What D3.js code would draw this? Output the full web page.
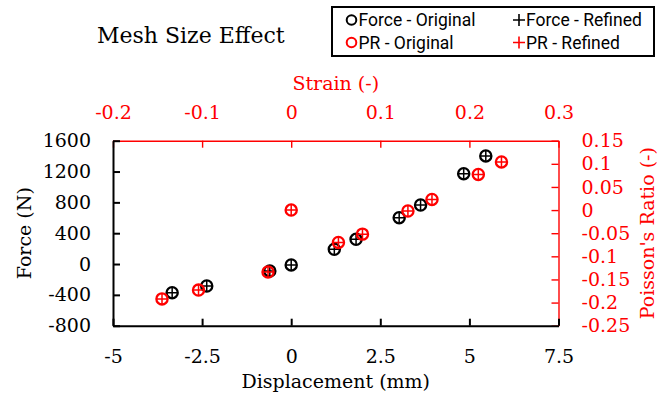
<!DOCTYPE html>
<html><head><meta charset="utf-8">
<script src="https://cdn.jsdelivr.net/npm/d3@7"></script>
<style>body{margin:0;background:#fff}svg{display:block}</style>
</head><body>
<script>
// Data
const dispOrig  = [-3.34, -2.37, -0.60, 0.00, 1.21, 1.82, 3.03, 3.63, 4.84, 5.46];
const forceOrig = [-372, -285, -90, -12, 192, 321, 601, 766, 1172, 1402];
const dispRef   = [-3.34, -2.37, -0.60, 0.00, 1.21, 1.82, 3.03, 3.63, 4.84, 5.46];
const forceRef  = [-372, -285, -90, -12, 192, 321, 601, 766, 1172, 1402];
const strainOrig = [-0.145, -0.104, -0.026, 0.000, 0.053, 0.080, 0.131, 0.158, 0.210, 0.236];
const prOrig     = [-0.192, -0.173, -0.134, 0.000, -0.070, -0.052, -0.002, 0.023, 0.077, 0.104];
const strainRef  = [-0.145, -0.104, -0.026, 0.000, 0.053, 0.080, 0.131, 0.158, 0.210, 0.236];
const prRef      = [-0.192, -0.173, -0.134, 0.000, -0.070, -0.052, -0.002, 0.023, 0.077, 0.104];

const dispTicks   = [-5, -2.5, 0, 2.5, 5, 7.5];
const strainTicks = [-0.2, -0.1, 0, 0.1, 0.2, 0.3];
const forceTicks  = [-800, -400, 0, 400, 800, 1200, 1600];
const prTicks     = [-0.25, -0.2, -0.15, -0.1, -0.05, 0, 0.05, 0.1, 0.15];

const title = "Mesh Size Effect";
const legendLabels = ["Force - Original", "Force - Refined", "PR - Original", "PR - Refined"];

const W = 662, H = 398;
const L = 113, R = 558.5, T = 140.7, B = 325.7;
const RED = "#ff0000";
const serif = "'DejaVu Serif', serif";

const svg = d3.select("body").append("svg").attr("width", W).attr("height", H);

const x  = d3.scaleLinear().domain([-5, 7.5]).range([L, R]);
const x2 = d3.scaleLinear().domain([-0.2, 0.3]).range([L, R]);
const y  = d3.scaleLinear().domain([-800, 1600]).range([B, T]);
const y2 = d3.scaleLinear().domain([-0.25, 0.15]).range([B, T]);

const fmt = d => String(d);

function styleAxis(g, color, width) {
  g.selectAll("path.domain").attr("stroke", color).attr("stroke-width", width);
  g.selectAll(".tick line").attr("stroke", color).attr("stroke-width", width);
  g.selectAll(".tick text").attr("fill", color).attr("font-family", serif).attr("font-size", 19);
}

// top (strain) axis
const gT = svg.append("g").attr("transform", `translate(0,${T})`)
  .call(d3.axisTop(x2).tickValues(strainTicks).tickFormat(fmt).tickSize(-7).tickSizeOuter(0).tickPadding(22));
styleAxis(gT, RED, 1.4);
// right (PR) axis
const gR = svg.append("g").attr("transform", `translate(${R},0)`)
  .call(d3.axisRight(y2).tickValues(prTicks).tickFormat(fmt).tickSize(-7).tickSizeOuter(0).tickPadding(23));
styleAxis(gR, RED, 1.4);
// left (force) axis
const gL = svg.append("g").attr("transform", `translate(${L},0)`)
  .call(d3.axisLeft(y).tickValues(forceTicks).tickFormat(fmt).tickSize(-7).tickSizeOuter(0).tickPadding(22));
styleAxis(gL, "#000", 2);
// bottom (displacement) axis
const gB = svg.append("g").attr("transform", `translate(0,${B})`)
  .call(d3.axisBottom(x).tickValues(dispTicks).tickFormat(fmt).tickSize(-7).tickSizeOuter(0).tickPadding(24));
styleAxis(gB, "#000", 2);

// axis titles
svg.append("text").attr("x", (L + R) / 2).attr("y", 90).attr("text-anchor", "middle")
  .attr("font-family", serif).attr("font-size", 19).attr("fill", RED).text("Strain (-)");
svg.append("text").attr("x", (L + R) / 2).attr("y", 388).attr("text-anchor", "middle")
  .attr("font-family", serif).attr("font-size", 19).attr("fill", "#000").text("Displacement (mm)");
svg.append("text").attr("transform", `translate(31,${(T + B) / 2}) rotate(-90)`).attr("text-anchor", "middle")
  .attr("font-family", serif).attr("font-size", 19).attr("fill", "#000").text("Force (N)");
svg.append("text").attr("transform", `translate(654,${(T + B) / 2}) rotate(-90)`).attr("text-anchor", "middle")
  .attr("font-family", serif).attr("font-size", 19).attr("fill", RED).text("Poisson's Ratio (-)");

// title
svg.append("text").attr("x", 97).attr("y", 43).attr("font-family", serif).attr("font-size", 22)
  .attr("fill", "#000").text(title);

// markers
function circles(xs, ys, sx, sy, color) {
  svg.append("g").selectAll("circle").data(xs).join("circle")
    .attr("cx", (d) => sx(d)).attr("cy", (d, i) => sy(ys[i])).attr("r", 5.6)
    .attr("fill", "none").attr("stroke", color).attr("stroke-width", 2.3);
}
function crosses(xs, ys, sx, sy, color, h) {
  svg.append("g").selectAll("path").data(xs).join("path")
    .attr("d", (d, i) => {
      const cx = sx(d), cy = sy(ys[i]);
      return `M${cx - h},${cy}H${cx + h}M${cx},${cy - h}V${cy + h}`;
    })
    .attr("fill", "none").attr("stroke", color).attr("stroke-width", 1.5);
}
circles(dispOrig, forceOrig, x, y, "#000");
crosses(dispRef, forceRef, x, y, "#000", 5.5);
circles(strainOrig, prOrig, x2, y2, RED);
crosses(strainRef, prRef, x2, y2, RED, 5.5);

// legend
const lg = svg.append("g");
lg.append("rect").attr("x", 332).attr("y", 7).attr("width", 322).attr("height", 49)
  .attr("fill", "#fff").attr("stroke", "#000").attr("stroke-width", 2);
const lfont = "Roboto, sans-serif";
const items = [
  {label: legendLabels[0], color: "#000", kind: "circle", mx: 351.5, ty: 26, my: 20},
  {label: legendLabels[1], color: "#000", kind: "cross", mx: 519, ty: 26, my: 20},
  {label: legendLabels[2], color: RED, kind: "circle", mx: 351.5, ty: 48.5, my: 42.5},
  {label: legendLabels[3], color: RED, kind: "cross", mx: 519, ty: 48.5, my: 42.5}
];
items.forEach(it => {
  if (it.kind === "circle") {
    lg.append("circle").attr("cx", it.mx).attr("cy", it.my).attr("r", 4.8)
      .attr("fill", "none").attr("stroke", it.color).attr("stroke-width", 2);
  } else {
    lg.append("path").attr("d", `M${it.mx - 6},${it.my}H${it.mx + 6}M${it.mx},${it.my - 6}V${it.my + 6}`)
      .attr("stroke", it.color).attr("stroke-width", 1.6);
  }
  lg.append("text").attr("x", it.mx + 7).attr("y", it.ty).attr("font-family", lfont)
    .attr("font-size", 17.5).attr("fill", "#000").text(it.label);
});
</script>
</body></html>
